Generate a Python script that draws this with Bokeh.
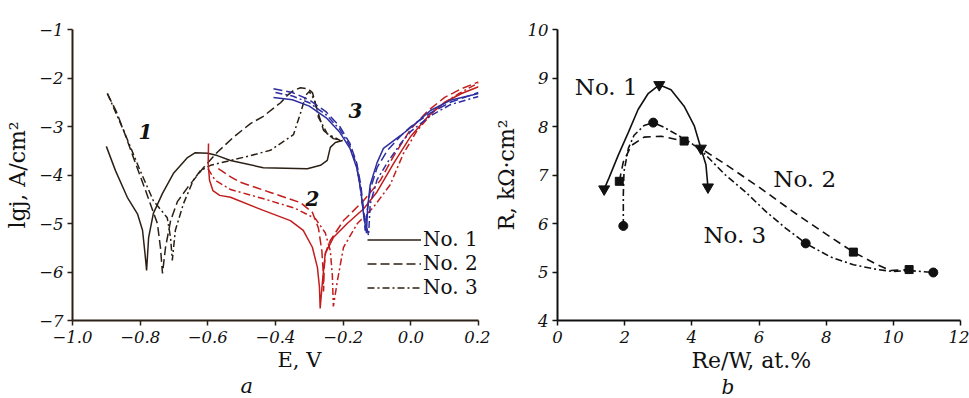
from bokeh.plotting import figure
from bokeh.layouts import row
from bokeh.models import FixedTicker, Legend, LegendItem, Label, Range1d, Title
from bokeh.embed import file_html
from bokeh.resources import INLINE

SERIF = "DejaVu Serif"
BLK = "#2b2015"
RED = "#c21d1d"
BLUE = "#2e2ea0"
TXT = "#111111"

# ---------------- panel a : polarization curves ----------------
E_TICKS = [-1.0, -0.8, -0.6, -0.4, -0.2, 0.0, 0.2]
E_TICK_LABELS = ["\u22121.0", "\u22120.8", "\u22120.6", "\u22120.4", "\u22120.2", "0.0", "0.2"]
LGJ_TICKS = [-7, -6, -5, -4, -3, -2, -1]
LGJ_TICK_LABELS = ["\u22127", "\u22126", "\u22125", "\u22124", "\u22123", "\u22122", "\u22121"]

# group 1 (black)
g1_solid_E = [-0.900, -0.873, -0.838, -0.808, -0.793, -0.786, -0.781, -0.775, -0.761, -0.734, -0.702,
              -0.660, -0.637, -0.600, -0.572, -0.533, -0.436, -0.306, -0.267, -0.247, -0.238, -0.223, -0.202]
g1_solid_L = [-3.41, -3.91, -4.46, -4.80, -5.14, -5.60, -5.97, -5.29, -4.79, -4.38, -3.97,
              -3.64, -3.54, -3.55, -3.60, -3.70, -3.85, -3.87, -3.80, -3.70, -3.43, -3.33, -3.29]
g1_dash_E = [-0.897, -0.870, -0.849, -0.820, -0.784, -0.749, -0.740, -0.734, -0.725, -0.710, -0.690,
             -0.660, -0.613, -0.572, -0.524, -0.474, -0.436, -0.385, -0.365, -0.347, -0.326, -0.305,
             -0.291, -0.276, -0.258, -0.229, -0.202]
g1_dash_L = [-2.32, -2.70, -3.08, -3.64, -4.32, -5.00, -5.50, -6.03, -5.49, -4.94, -4.55,
             -4.26, -3.85, -3.53, -3.22, -2.94, -2.79, -2.51, -2.36, -2.26, -2.20, -2.22,
             -2.30, -2.67, -3.08, -3.25, -3.29]
g1_dd_E = [-0.897, -0.849, -0.800, -0.761, -0.720, -0.710, -0.705, -0.696, -0.672, -0.643, -0.622,
           -0.592, -0.533, -0.474, -0.415, -0.347, -0.325, -0.310, -0.300, -0.285, -0.273, -0.247, -0.208]
g1_dd_L = [-2.32, -3.08, -3.91, -4.53, -4.88, -5.30, -5.76, -5.14, -4.59, -4.11, -3.91,
           -3.80, -3.70, -3.60, -3.49, -3.17, -2.70, -2.35, -2.28, -2.45, -2.81, -3.15, -3.29]

# group 2 (red)
g2_solid_E = [-0.598, -0.599, -0.595, -0.585, -0.565, -0.533, -0.436, -0.356, -0.318, -0.291, -0.276, -0.270,
              -0.268, -0.261, -0.253, -0.229, -0.188, -0.140, -0.100, -0.050, 0.000, 0.050, 0.100, 0.150, 0.200]
g2_solid_L = [-3.35, -3.76, -4.11, -4.32, -4.42, -4.46, -4.73, -4.94, -5.14, -5.49, -5.91, -6.32,
              -6.75, -6.18, -5.62, -5.29, -5.00, -4.70, -4.35, -3.75, -3.20, -2.80, -2.50, -2.32, -2.18]
g2_dash_E = [-0.569, -0.530, -0.504, -0.415, -0.326, -0.291, -0.273, -0.263, -0.259, -0.258,
             -0.256, -0.252, -0.238, -0.199, -0.140, -0.090, -0.050, 0.000, 0.050, 0.100, 0.150, 0.200]
g2_dash_L = [-3.87, -4.05, -4.15, -4.36, -4.57, -4.77, -5.10, -5.56, -6.00, -6.40,
             -5.91, -5.60, -5.35, -4.94, -4.53, -4.11, -3.60, -3.05, -2.68, -2.40, -2.22, -2.08]
g2_dd_E = [-0.600, -0.578, -0.533, -0.430, -0.341, -0.282, -0.253, -0.238, -0.232, -0.229,
           -0.217, -0.199, -0.158, -0.111, -0.061, -0.022, 0.019, 0.078, 0.140, 0.200]
g2_dd_L = [-3.87, -4.11, -4.30, -4.50, -4.69, -4.90, -5.19, -5.56, -6.07, -6.71,
           -6.18, -5.49, -5.00, -4.67, -4.20, -3.56, -3.08, -2.61, -2.33, -2.10]

# group 3 (blue)
g3_solid_E = [-0.406, -0.350, -0.300, -0.250, -0.210, -0.180, -0.160, -0.148, -0.140, -0.131,
              -0.128, -0.120, -0.100, -0.081, -0.031, 0.000, 0.058, 0.117, 0.200]
g3_solid_L = [-2.40, -2.45, -2.58, -2.82, -3.12, -3.45, -3.85, -4.30, -4.80, -5.20,
              -4.70, -4.20, -3.75, -3.45, -3.19, -3.02, -2.67, -2.46, -2.32]
g3_dash_E = [-0.406, -0.350, -0.300, -0.250, -0.210, -0.180, -0.160, -0.148, -0.140, -0.135,
             -0.130, -0.120, -0.100, -0.070, -0.031, 0.000, 0.058, 0.117, 0.200]
g3_dash_L = [-2.22, -2.30, -2.45, -2.70, -3.00, -3.35, -3.75, -4.20, -4.70, -5.15,
             -4.80, -4.30, -3.85, -3.50, -3.20, -3.00, -2.72, -2.50, -2.30]
g3_dd_E = [-0.400, -0.350, -0.300, -0.250, -0.210, -0.180, -0.160, -0.150, -0.140, -0.125,
           -0.120, -0.100, -0.070, -0.030, 0.000, 0.058, 0.117, 0.200]
g3_dd_L = [-2.30, -2.37, -2.51, -2.76, -3.06, -3.40, -3.80, -4.25, -4.75, -5.25,
           -4.60, -4.10, -3.75, -3.35, -3.10, -2.78, -2.55, -2.38]

# ---------------- panel b : resistance vs Re/W ----------------
RW_TICKS = [0, 2, 4, 6, 8, 10, 12]
R_TICKS = [4, 5, 6, 7, 8, 9, 10]

no1_x = [1.39, 3.03, 4.27, 4.48]
no1_R = [6.71, 8.86, 7.55, 6.75]
no1_curve_x = [1.39, 1.54, 1.81, 2.11, 2.40, 2.70, 3.03, 3.38, 3.77, 4.07, 4.27, 4.42, 4.48]
no1_curve_R = [6.71, 6.95, 7.41, 7.88, 8.35, 8.68, 8.86, 8.76, 8.42, 8.02, 7.55, 7.21, 6.75]

no2_x = [1.84, 3.77, 8.81, 10.47]
no2_R = [6.87, 7.70, 5.41, 5.05]
no2_curve_x = [1.84, 1.96, 2.20, 2.58, 3.09, 3.77, 4.27, 5.00, 6.00, 7.00, 8.00, 8.81, 9.53, 9.91, 10.47]
no2_curve_R = [6.87, 7.27, 7.61, 7.78, 7.80, 7.70, 7.55, 7.22, 6.75, 6.25, 5.78, 5.41, 5.15, 5.03, 5.05]

no3_x = [1.96, 2.85, 7.39, 11.19]
no3_R = [5.95, 8.08, 5.59, 4.99]
no3_curve_x = [1.96, 1.96, 1.98, 2.11, 2.28, 2.58, 2.85, 3.18, 3.59, 3.98, 4.36, 5.00, 5.60, 6.20,
               6.80, 7.39, 8.13, 8.81, 9.53, 10.00, 10.47, 11.19]
no3_curve_R = [5.95, 6.60, 7.07, 7.55, 7.82, 8.02, 8.08, 7.98, 7.82, 7.66, 7.45, 7.00, 6.65, 6.25,
               5.90, 5.59, 5.31, 5.15, 5.05, 5.01, 5.03, 4.99]


def style_axes(p, color):
    p.outline_line_color = None
    p.xgrid.grid_line_color = None
    p.ygrid.grid_line_color = None
    p.background_fill_color = "white"
    p.border_fill_color = "white"
    for ax in (p.xaxis[0], p.yaxis[0]):
        ax.axis_line_color = color
        ax.axis_line_width = 2
        ax.major_tick_line_color = color
        ax.major_tick_line_width = 1.5
        ax.major_tick_in = 0
        ax.major_tick_out = 5
        ax.minor_tick_line_color = None
        ax.major_label_text_font = SERIF
        ax.major_label_text_font_style = "italic"
        ax.major_label_text_font_size = "16.5px"
        ax.major_label_text_color = TXT
        ax.axis_label_text_font = SERIF
        ax.axis_label_text_font_style = "normal"
        ax.axis_label_text_font_size = "22px"
        ax.axis_label_text_color = TXT
    p.xaxis[0].major_label_standoff = 5
    p.yaxis[0].major_label_standoff = 4
    p.yaxis[0].axis_label_standoff = 6
    p.xaxis[0].axis_label_standoff = 2


def below_title(p, text, offset, style="normal", size="21px"):
    t = Title(text=text, align="left", offset=offset, standoff=0,
              text_font=SERIF, text_font_style=style, text_font_size=size,
              text_color=TXT)
    p.add_layout(t, "below")


# ----- panel a -----
p1 = figure(width=490, height=398, x_range=Range1d(-1.0, 0.2), y_range=Range1d(-7, -1),
            output_backend="svg", toolbar_location=None,
            min_border_left=72, min_border_right=12, min_border_top=29, min_border_bottom=0)
style_axes(p1, BLK)
p1.xaxis.ticker = FixedTicker(ticks=E_TICKS)
p1.xaxis.major_label_overrides = dict(zip(E_TICKS, E_TICK_LABELS))
p1.yaxis.ticker = FixedTicker(ticks=LGJ_TICKS)
p1.yaxis.major_label_overrides = dict(zip(LGJ_TICKS, LGJ_TICK_LABELS))
p1.yaxis.axis_label = "lgj, A/cm\u00b2"

DASH = "9 4"
DASHDOT = "7 3 2 3"
LW = 1.5

r_s = p1.line(g1_solid_E, g1_solid_L, line_color=BLK, line_width=LW)
r_d = p1.line(g1_dash_E, g1_dash_L, line_color=BLK, line_width=LW, line_dash=DASH)
r_dd = p1.line(g1_dd_E, g1_dd_L, line_color=BLK, line_width=LW, line_dash=DASHDOT)
p1.line(g2_solid_E, g2_solid_L, line_color=RED, line_width=LW)
p1.line(g2_dash_E, g2_dash_L, line_color=RED, line_width=LW, line_dash=DASH)
p1.line(g2_dd_E, g2_dd_L, line_color=RED, line_width=LW, line_dash=DASHDOT)
p1.line(g3_solid_E, g3_solid_L, line_color=BLUE, line_width=LW)
p1.line(g3_dash_E, g3_dash_L, line_color=BLUE, line_width=LW, line_dash=DASH)
p1.line(g3_dd_E, g3_dd_L, line_color=BLUE, line_width=LW, line_dash=DASHDOT)

legend = Legend(items=[LegendItem(label="No. 1", renderers=[r_s]),
                       LegendItem(label="No. 2", renderers=[r_d]),
                       LegendItem(label="No. 3", renderers=[r_dd])],
                location=(295, 21), background_fill_alpha=0, border_line_color=None,
                padding=0, margin=0, spacing=-4, glyph_width=54, glyph_height=19,
                label_height=19, label_standoff=2, label_text_font=SERIF,
                label_text_font_size="20px", label_text_baseline="middle",
                label_text_color=TXT)
p1.add_layout(legend)

for txt, ex, ly in (("1", -0.784, -3.10), ("2", -0.291, -4.48), ("3", -0.164, -2.67)):
    p1.add_layout(Label(x=ex, y=ly, text=txt, text_font=SERIF, text_font_style="bold italic",
                        text_font_size="20px", text_align="center", text_baseline="middle",
                        text_color=TXT))

below_title(p1, "E, V", 205, size="21px")
below_title(p1, "a", 168, style="italic", size="21px")

# ----- panel b -----
p2 = figure(width=479, height=398, x_range=Range1d(0, 12), y_range=Range1d(4, 10),
            output_backend="svg", toolbar_location=None,
            min_border_left=66, min_border_right=9, min_border_top=21, min_border_bottom=0)
style_axes(p2, "#111111")
p2.xaxis.ticker = FixedTicker(ticks=RW_TICKS)
p2.yaxis.ticker = FixedTicker(ticks=R_TICKS)
p2.yaxis.axis_label = "R, k\u03a9\u00b7cm\u00b2"

p2.line(no1_curve_x, no1_curve_R, line_color="#111111", line_width=1.6)
p2.scatter(no1_x, no1_R, marker="inverted_triangle", size=11, fill_color="#111111", line_color="#111111")
p2.line(no2_curve_x, no2_curve_R, line_color="#111111", line_width=1.6, line_dash="8 5")
p2.scatter(no2_x, no2_R, marker="square", size=8, fill_color="#111111", line_color="#111111")
p2.line(no3_curve_x, no3_curve_R, line_color="#111111", line_width=1.6, line_dash="7 3 2 3")
p2.scatter(no3_x, no3_R, marker="circle", size=9, fill_color="#111111", line_color="#111111")

for txt, xx, yy in (("No. 1", 1.45, 8.82), ("No. 2", 7.36, 6.91), ("No. 3", 5.28, 5.77)):
    p2.add_layout(Label(x=xx, y=yy, text=txt, text_font=SERIF, text_font_size="23px",
                        text_align="center", text_baseline="middle", text_color=TXT))

below_title(p2, "Re/W, at.%", 134, size="22px")
below_title(p2, "b", 164, style="italic", size="20px")

layout = row(p1, p2)
open("out.html", "w").write(file_html(layout, INLINE))
